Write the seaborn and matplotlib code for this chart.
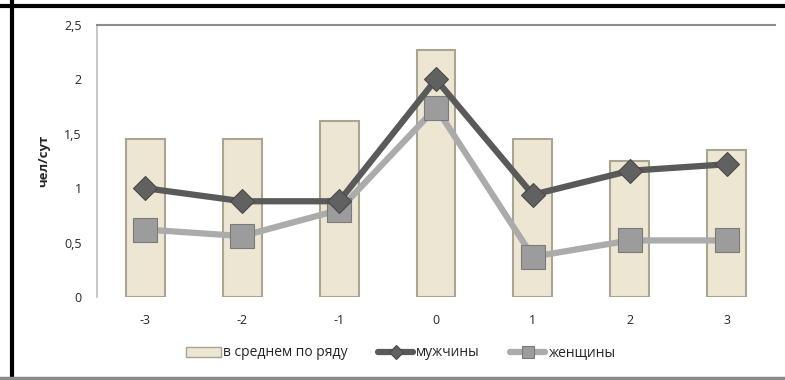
import pandas as pd
import seaborn as sns
import matplotlib.pyplot as plt
from matplotlib.lines import Line2D
from matplotlib.patches import Patch

# data
groups = ["-3", "-2", "-1", "0", "1", "2", "3"]
avg_row = [1.45, 1.45, 1.62, 2.27, 1.45, 1.25, 1.35]
men = [1.0, 0.88, 0.88, 2.0, 0.94, 1.16, 1.22]
women = [0.62, 0.56, 0.80, 1.74, 0.37, 0.52, 0.52]
ytick_vals = [0, 0.5, 1, 1.5, 2, 2.5]
ytick_labels = ["0", "0,5", "1", "1,5", "2", "2,5"]

df = pd.DataFrame({"group": groups, "avg": avg_row, "men": men, "women": women})

sns.set_style("white")
plt.rcParams['font.family'] = ['Open Sans', 'DejaVu Sans']

fig = plt.figure(figsize=(7.85, 3.8), dpi=100)
ax = fig.add_axes([97 / 785, 1 - 297 / 380, 678 / 785, 272 / 380])

bar_col = "#ECE6D2"
sns.barplot(data=df, x="group", y="avg", order=groups, color=bar_col,
            width=0.4, edgecolor="#A9A591", linewidth=1.5, saturation=1, ax=ax)

sns.pointplot(data=df, x="group", y="men", order=groups, color="#5A5A5A",
              markers="D", markersize=12, linewidth=4.5, errorbar=None, ax=ax,
              markeredgecolor="#4A4A4A", markeredgewidth=0.8,
              markerfacecolor="#616161", zorder=4)
sns.pointplot(data=df, x="group", y="women", order=groups, color="#ABABAB",
              markers="s", markersize=17, linewidth=4.5, errorbar=None, ax=ax,
              markeredgecolor="#7A7A7A", markeredgewidth=0.8,
              markerfacecolor="#9C9C9C", zorder=3)

ax.set_xlim(-0.5, 6.5)
ax.set_ylim(0, 2.5)
ax.set_yticks(ytick_vals)
ax.set_yticklabels(ytick_labels)
ax.tick_params(axis="y", length=0, pad=11, labelsize=9)
ax.tick_params(axis="x", length=0, pad=12, labelsize=9)
ax.set_xlabel("")
ax.set_ylabel("чел/сут", fontsize=9.5, fontweight="bold", labelpad=10)

for side in ["right", "bottom"]:
    ax.spines[side].set_visible(False)
ax.spines["left"].set_color("#BFBFBF")
ax.spines["top"].set_color("#8C8C8C")
ax.spines["left"].set_linewidth(1.2)
ax.spines["top"].set_linewidth(1.5)

handles = [
    Patch(facecolor=bar_col, edgecolor="#A9A591", label="в среднем по ряду"),
    Line2D([], [], color="#5A5A5A", lw=4.5, marker="D", markersize=7,
           markerfacecolor="#616161", markeredgecolor="#4A4A4A",
           markeredgewidth=0.8, label="мужчины"),
    Line2D([], [], color="#ABABAB", lw=4.5, marker="s", markersize=8,
           markerfacecolor="#9C9C9C", markeredgecolor="#7A7A7A",
           markeredgewidth=0.8, label="женщины"),
]
fig.legend(handles=handles, loc="center", bbox_to_anchor=(0.51, 1 - 353 / 380),
           ncol=3, frameon=False, fontsize=10, handlelength=2.5,
           handletextpad=0.2, columnspacing=2.2)

# outer frame of the picture
fig.add_artist(Line2D([0, 1], [1 - 5.5 / 380] * 2, color="black", lw=3))
fig.add_artist(Line2D([11.5 / 785] * 2, [0, 1], color="black", lw=3))
fig.add_artist(Line2D([0, 1], [1 - 377.5 / 380] * 2, color="#8C8C8C", lw=2.5))

fig.savefig("out.png", dpi=100)
